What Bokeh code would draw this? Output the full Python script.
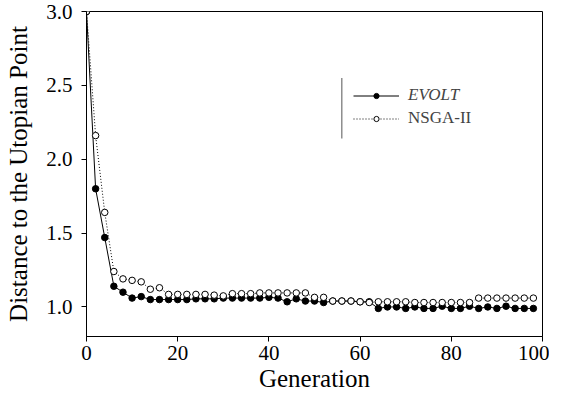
from bokeh.plotting import figure
from bokeh.models import Range1d, FixedTicker, PrintfTickFormatter, Legend, LegendItem, BoxAnnotation, ColumnDataSource
from bokeh.embed import file_html
from bokeh.resources import INLINE

generation = list(range(0, 100, 2))
evolt = [3.0, 1.80, 1.47, 1.14, 1.10, 1.06, 1.07, 1.05, 1.05, 1.05,
         1.05, 1.05, 1.055, 1.055, 1.055, 1.06, 1.06, 1.06, 1.06, 1.06,
         1.065, 1.06, 1.035, 1.055, 1.04, 1.04, 1.03, 1.04, 1.04, 1.04,
         1.035, 1.035, 0.99, 1.00, 1.00, 0.99, 1.00, 0.99, 0.99, 1.005,
         0.99, 0.99, 1.005, 0.99, 1.00, 0.99, 1.005, 0.99, 0.99, 0.99]
nsga2 = [3.0, 2.16, 1.64, 1.24, 1.19, 1.18, 1.17, 1.12, 1.13, 1.085,
         1.085, 1.085, 1.085, 1.085, 1.08, 1.075, 1.09, 1.09, 1.09, 1.095,
         1.095, 1.095, 1.095, 1.095, 1.095, 1.065, 1.065, 1.04, 1.04, 1.04,
         1.035, 1.03, 1.035, 1.035, 1.035, 1.035, 1.03, 1.03, 1.03, 1.03,
         1.03, 1.03, 1.03, 1.06, 1.06, 1.06, 1.06, 1.06, 1.06, 1.06]
x_ticks = [0, 20, 40, 60, 80, 100]
y_ticks = [1.0, 1.5, 2.0, 2.5, 3.0]
series_names = ["EVOLT", "NSGA-II"]

FONT = "Liberation Serif"

src = ColumnDataSource(dict(g=generation, evolt=evolt, nsga2=nsga2))

p = figure(width=549, height=394, output_backend="svg", toolbar_location=None,
           x_range=Range1d(0, 100), y_range=Range1d(0.8, 3.0),
           min_border_left=86, min_border_right=7, min_border_top=11, min_border_bottom=56)
p.grid.visible = False
p.outline_line_color = "black"
p.outline_line_width = 1
p.background_fill_color = "white"
p.border_fill_color = "white"

l1 = p.line("g", "evolt", source=src, line_color="black", line_width=1)
m1 = p.scatter("g", "evolt", source=src, marker="circle", size=6.5, fill_color="black", line_color="black")
l2 = p.line("g", "nsga2", source=src, line_color="black", line_width=1, line_dash="1 2")
m2 = p.scatter("g", "nsga2", source=src, marker="circle", size=6.5, fill_color="white", line_color="black")

p.xaxis.ticker = FixedTicker(ticks=x_ticks)
p.yaxis.ticker = FixedTicker(ticks=y_ticks)
p.yaxis.formatter = PrintfTickFormatter(format="%.1f")
for ax in (p.xaxis[0], p.yaxis[0]):
    ax.major_tick_in = 0
    ax.major_tick_out = 5
    ax.minor_tick_in = 0
    ax.minor_tick_out = 0
    ax.axis_line_color = "black"
    ax.major_tick_line_color = "black"
    ax.major_label_text_font = FONT
    ax.major_label_text_font_size = "21px"
    ax.major_label_text_color = "black"
    ax.axis_label_text_font = FONT
    ax.axis_label_text_font_size = "25px"
    ax.axis_label_text_font_style = "normal"
    ax.axis_label_text_color = "black"
p.xaxis.axis_label = "Generation"
p.yaxis.axis_label = "Distance to the Utopian Point"
p.xaxis.major_label_standoff = 4
p.xaxis.axis_label_standoff = 2
p.yaxis.major_label_standoff = 9
p.yaxis.axis_label_standoff = 11

leg1 = Legend(items=[LegendItem(label=series_names[0], renderers=[l1, m1])],
              location=(267, 230), border_line_alpha=0, background_fill_alpha=0,
              padding=0, margin=0, spacing=0, glyph_width=46, glyph_height=13,
              label_standoff=9, label_text_font=FONT, label_text_font_size="17px",
              label_text_font_style="italic", label_height=22)
leg2 = Legend(items=[LegendItem(label=series_names[1], renderers=[l2, m2])],
              location=(267, 207), border_line_alpha=0, background_fill_alpha=0,
              padding=0, margin=0, spacing=0, glyph_width=46, glyph_height=13,
              label_standoff=9, label_text_font=FONT, label_text_font_size="17px",
              label_text_font_style="normal", label_height=22)
p.add_layout(leg1)
p.add_layout(leg2)
p.add_layout(BoxAnnotation(left=55.9, right=56.1, top=2.55, bottom=2.14,
                           fill_color="#444444", fill_alpha=1, line_alpha=0))

open("out.html", "w").write(file_html(p, INLINE))
